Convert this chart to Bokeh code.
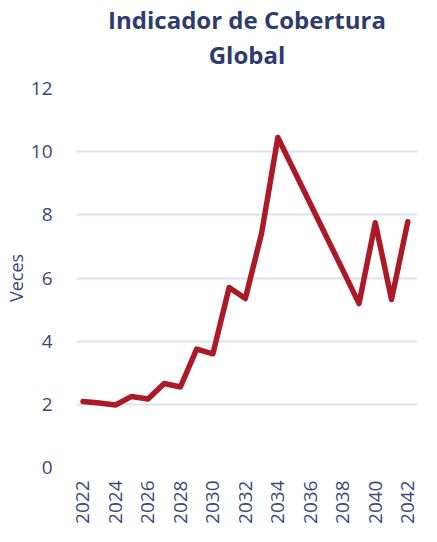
import math
from bokeh.plotting import figure
from bokeh.models import FixedTicker, Range1d, Title
from bokeh.embed import file_html
from bokeh.resources import INLINE

years = [2022, 2023, 2024, 2025, 2026, 2027, 2028, 2029, 2030, 2031, 2032,
         2033, 2034, 2035, 2036, 2037, 2038, 2039, 2040, 2041, 2042]
veces = [2.09, 2.04, 1.98, 2.25, 2.17, 2.66, 2.55, 3.75, 3.60, 5.70, 5.35,
         7.42, 10.45, 9.40, 8.35, 7.30, 6.25, 5.19, 7.75, 5.32, 7.78]
x_ticks = list(range(2022, 2043, 2))
y_ticks = [0, 2, 4, 6, 8, 10, 12]

title_line1 = "Indicador de Cobertura"
title_line2 = "Global"
y_label = "Veces"

NAVY = "#2f3b6c"
TICK = "#3b4878"
GRID = "#dfe1f0"
LINE = "#ad1a27"
FONT = "Open Sans"

p = figure(width=421, height=526, output_backend="svg", toolbar_location=None,
           x_range=Range1d(2021.6, 2042.6), y_range=Range1d(0, 12),
           min_border_left=65, min_border_right=4, min_border_bottom=56,
           min_border_top=88)
p.title = None
t2 = Title(text=title_line2, align="center", text_font=FONT, text_font_size="24px",
           text_font_style="bold", text_color=NAVY, standoff=36)
t1 = Title(text=title_line1, align="center", text_font=FONT, text_font_size="24px",
           text_font_style="bold", text_color=NAVY, standoff=-36)
p.add_layout(t2, "above")
p.add_layout(t1, "above")
p.outline_line_color = None
p.background_fill_color = "white"
p.border_fill_color = "white"

p.line(years, veces, line_color=LINE, line_width=5.5, line_join="round", line_cap="round")

p.xaxis.ticker = FixedTicker(ticks=x_ticks)
p.yaxis.ticker = FixedTicker(ticks=y_ticks)
for ax in (p.xaxis, p.yaxis):
    ax.axis_line_color = None
    ax.major_tick_line_color = None
    ax.minor_tick_line_color = None
    ax.major_label_text_font = FONT
    ax.major_label_text_font_size = "19px"
    ax.major_label_text_color = TICK
p.xaxis.major_label_orientation = math.pi / 2
p.xaxis.major_label_standoff = 7
p.yaxis.major_label_standoff = 18
p.yaxis.axis_label = y_label
p.yaxis.axis_label_text_font = FONT
p.yaxis.axis_label_text_font_size = "18px"
p.yaxis.axis_label_text_font_style = "normal"
p.yaxis.axis_label_text_color = TICK
p.yaxis.axis_label_standoff = 0

p.xgrid.grid_line_color = None
p.ygrid.grid_line_color = GRID
p.ygrid.grid_line_width = 2

open("out.html", "w").write(file_html(p, INLINE))
